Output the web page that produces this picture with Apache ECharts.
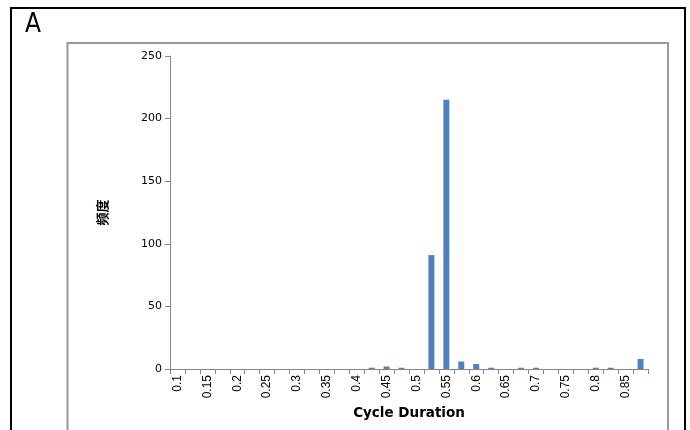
<!DOCTYPE html>
<html>
<head>
<meta charset="utf-8">
<script src="https://cdn.jsdelivr.net/npm/echarts@6/dist/echarts.min.js"></script>
<style>
  html, body { margin: 0; padding: 0; background: #fff; }
  #chart { width: 690px; height: 430px; }
</style>
</head>
<body>
<div id="chart"></div>
<script>
const categories = ['0.1','0.125','0.15','0.175','0.2','0.225','0.25','0.275','0.3','0.325','0.35','0.375','0.4','0.425','0.45','0.475','0.5','0.525','0.55','0.575','0.6','0.625','0.65','0.675','0.7','0.725','0.75','0.775','0.8','0.825','0.85','0.875'];
const frequency = [0,0,0,0,0,0,0,0,0,0,0,0,0,1,2,1,0,91,215,6,4,1,0,1,1,0,0,0,1,1,0,8];
const yTicks = { min: 0, max: 250, interval: 50 };
const panelLabel = 'A';
const xTitle = 'Cycle Duration';
const yTitle = '频度';

const chart = echarts.init(document.getElementById('chart'), null, { renderer: 'canvas' });
const axisGray = '#868686';
chart.setOption({
  animation: false,
  backgroundColor: '#ffffff',
  grid: { left: 170, right: 42, top: 56, bottom: 61, containLabel: false },
  xAxis: {
    type: 'category',
    data: categories,
    boundaryGap: true,
    name: xTitle,
    nameLocation: 'middle',
    nameGap: 36,
    nameTextStyle: { fontFamily: 'DejaVu Sans', fontWeight: 'bold', fontSize: 13.5, color: '#000' },
    axisLine: { show: true, lineStyle: { color: axisGray, width: 1 } },
    axisTick: { show: true, interval: 0, length: 5, inside: false, lineStyle: { color: axisGray } },
    axisLabel: { interval: 1, rotate: 90, margin: 6, fontFamily: 'Liberation Sans', fontSize: 12, color: '#000' },
    splitLine: { show: false }
  },
  yAxis: {
    type: 'value',
    min: yTicks.min,
    max: yTicks.max,
    interval: yTicks.interval,
    name: yTitle,
    nameLocation: 'middle',
    nameRotate: 90,
    nameGap: 61,
    nameTextStyle: { fontFamily: 'Noto Sans CJK SC', fontWeight: 'bold', fontSize: 13, color: '#000' },
    axisLine: { show: true, lineStyle: { color: axisGray, width: 1 } },
    axisTick: { show: true, length: 5, inside: false, lineStyle: { color: axisGray } },
    axisLabel: { margin: 8, fontFamily: 'DejaVu Sans', fontSize: 11, color: '#000' },
    splitLine: { show: false }
  },
  series: [{
    type: 'bar',
    data: frequency,
    barWidth: '40%',
    itemStyle: { color: '#4F81BD' }
  }],
  graphic: [
    { type: 'rect', shape: { x: 11, y: 8, width: 674, height: 440 }, style: { fill: 'none', stroke: '#000', lineWidth: 2 }, silent: true, z: 100 },
    { type: 'rect', shape: { x: 67.5, y: 43, width: 600.5, height: 420 }, style: { fill: 'none', stroke: '#999999', lineWidth: 2 }, silent: true, z: 100 },
    { type: 'text', left: 25, top: 12, style: { text: panelLabel, font: '26px "Liberation Sans Narrow", "DejaVu Sans Condensed", sans-serif', fill: '#000' }, z: 100 }
  ]
});
</script>
</body>
</html>
